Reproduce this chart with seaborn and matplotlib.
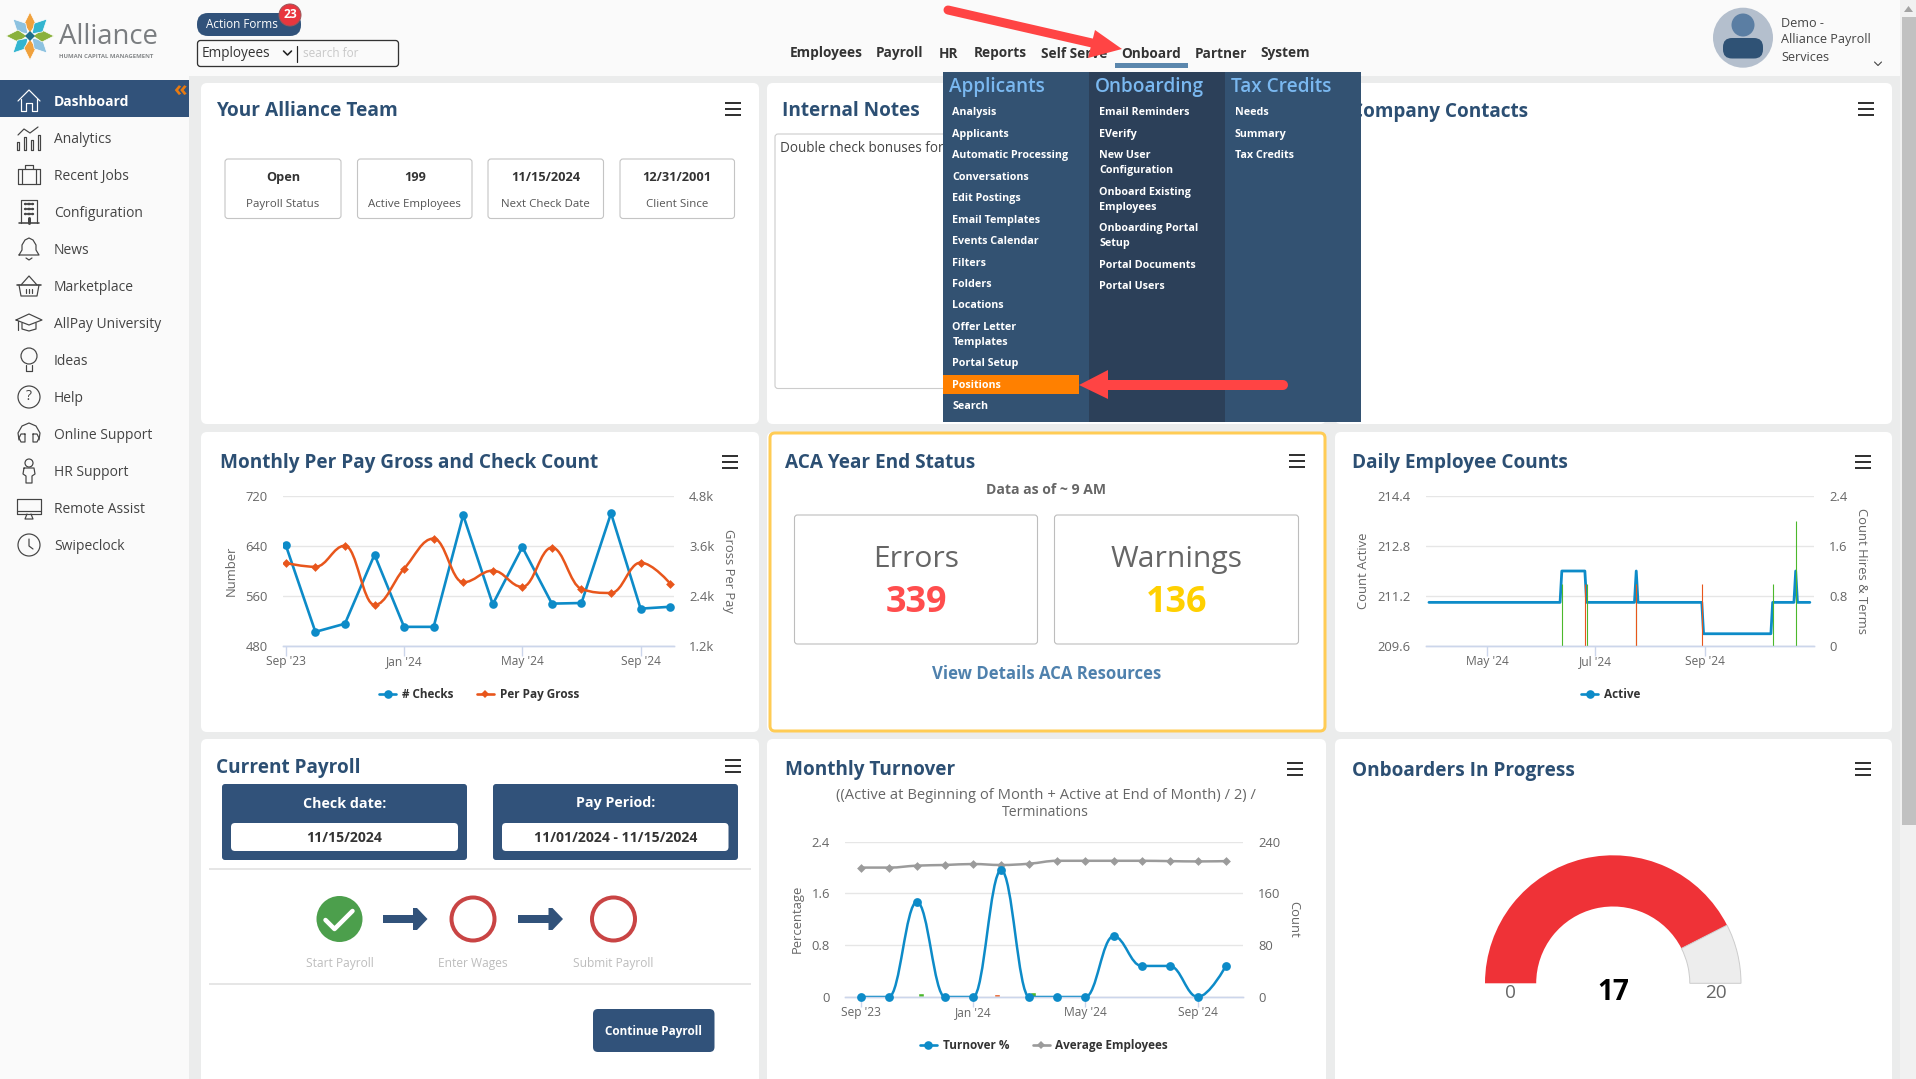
import matplotlib
matplotlib.use("Agg")
import matplotlib.pyplot as plt
import numpy as np
import pandas as pd
import seaborn as sns
from matplotlib.lines import Line2D
from matplotlib.patches import Circle, FancyBboxPatch, PathPatch, Polygon, Rectangle
from matplotlib.path import Path

sns.set_theme(style="white")
plt.rcParams["font.family"] = ["Open Sans", "Noto Sans", "DejaVu Sans"]

W, H = 1916, 1079

####
# data
####

month_index = list(range(14))
month_ticks = [0, 4, 8, 12]
month_tick_labels = ["Sep '23", "Jan '24", "May '24", "Sep '24"]

checks = [641, 503, 516, 626, 511, 511, 689, 547, 638, 548, 549, 692, 540, 543]
per_pay_gross = [3190, 3100, 3605, 2190, 3055, 3775, 2730, 3010, 2620, 3560, 2570, 2475, 3200, 2700]

active_dates = pd.to_datetime([
    "2024-03-29", "2024-06-11", "2024-06-12", "2024-06-25", "2024-06-26", "2024-07-23", "2024-07-24",
    "2024-07-25", "2024-08-30", "2024-08-31", "2024-10-08", "2024-10-09", "2024-10-21", "2024-10-22",
    "2024-10-23", "2024-10-30",
])
active_counts = [211, 211, 212, 212, 211, 211, 212, 211, 211, 210, 210, 211, 211, 212, 211, 211]
hire_dates = pd.to_datetime(["2024-06-12", "2024-06-26", "2024-07-24", "2024-10-09", "2024-10-22"])
hire_counts = [1, 1, 1, 1, 2]
term_dates = pd.to_datetime(["2024-06-25", "2024-07-24", "2024-08-30"])
term_counts = [1, 1, 1]
daily_ticks = pd.to_datetime(["2024-05-01", "2024-07-01", "2024-09-01"])
daily_tick_labels = ["May '24", "Jul '24", "Sep '24"]

turnover_pct = [0, 0, 1.47, 0, 0, 1.96, 0, 0, 0, 0.94, 0.48, 0.48, 0, 0.48]
average_employees = [200, 200, 203, 204, 205.5, 204, 206, 210.5, 210.5, 210.5, 210.5, 210, 209.5, 210]
monthly_terms = [0, 0, 2, 0, 0, 4, 0, 0, 0, 0, 0, 0, 0, 0]
monthly_hires = [0, 0, 6, 0, 0, 0, 7, 0, 0, 0, 0, 0, 0, 1]

gauge_value = 17
gauge_max = 20

nav_items = ["Employees", "Payroll", "HR", "Reports", "Self Serve", "Onboard", "Partner", "System"]
nav_x = [826, 899.5, 948.5, 1000.5, 1074, 1151.5, 1221, 1285]

side_items = ["Dashboard", "Analytics", "Recent Jobs", "Configuration", "News", "Marketplace", "AllPay University",
              "Ideas", "Help", "Online Support", "HR Support", "Remote Assist", "Swipeclock"]
side_y = [101, 138, 175, 212, 249, 286, 323, 360, 397, 434, 471, 508, 545]

menu_col1 = ["Analysis", "Applicants", "Automatic Processing", "Conversations", "Edit Postings", "Email Templates",
             "Events Calendar", "Filters", "Folders", "Locations", "Offer Letter", "Templates", "Portal Setup",
             "Positions", "Search"]
menu_col1_y = [112, 134, 155, 177, 198, 220, 241, 263, 284, 305, 327, 342, 363, 385, 406]
menu_col2 = ["Email Reminders", "EVerify", "New User", "Configuration", "Onboard Existing", "Employees",
             "Onboarding Portal", "Setup", "Portal Documents", "Portal Users"]
menu_col2_y = [112, 134, 155, 170, 192, 207, 228, 243, 265, 286]
menu_col3 = ["Needs", "Summary", "Tax Credits"]
menu_col3_y = [112, 134, 155]

stat_values = ["Open", "199", "11/15/2024", "12/31/2001"]
stat_labels = ["Payroll Status", "Active Employees", "Next Check Date", "Client Since"]
stat_left = [225, 357.5, 488, 620]
stat_right = [341, 472, 603.5, 734.5]

NAVY = "#31527a"
TITLE = "#2c4f73"
BLUE = "#0d8bc8"
ORANGE = "#e8561c"
GREY = "#9b9b9b"
GREEN = "#4cb82c"
RED = "#ff4444"
TICK = "#666666"
AXIS = "#ccd6eb"
GRID = "#e6e6e6"


def fs(px):
    return px * 0.72


fig = plt.figure(figsize=(W / 100, H / 100), dpi=100, facecolor="#ebecec")
bg = fig.add_axes([0, 0, 1, 1])
bg.set_xlim(0, W)
bg.set_ylim(H, 0)
bg.axis("off")


def text(x, y, s, px=14, color="#444444", weight="normal", ha="left", va="center", **kw):
    return bg.text(x, y + 1.5, s, fontsize=fs(px), color=color, fontweight=weight, ha=ha, va=va, **kw)


def box(x0, y0, x1, y1, face="white", edge="none", r=4, lw=1.0, z=1):
    p = FancyBboxPatch((x0, y0), x1 - x0, y1 - y0, boxstyle=f"round,pad=0,rounding_size={r}",
                       facecolor=face, edgecolor=edge, linewidth=fs(lw), zorder=z)
    bg.add_patch(p)
    return p


def rect(x0, y0, x1, y1, face, z=1):
    bg.add_patch(Rectangle((x0, y0), x1 - x0, y1 - y0, facecolor=face, edgecolor="none", zorder=z))


def hamburger(cx, cy):
    for dy in (-6, 0, 6):
        rect(cx - 8, cy + dy - 1, cx + 8, cy + dy + 1, "#333333", z=2)


def pl(pts, cx, cy, c="#444444", lw=1.2):
    bg.plot([cx + p[0] for p in pts], [cy + p[1] for p in pts], color=c, lw=fs(lw), zorder=3,
            solid_capstyle="round", solid_joinstyle="round")


def ring(cx, cy, r, c="#444444", lw=1.2):
    bg.add_patch(Circle((cx, cy), r, facecolor="none", edgecolor=c, linewidth=fs(lw), zorder=3))


def icon(name, cx, cy):
    c = "white" if name == "Dashboard" else "#444444"
    if name == "Dashboard":
        pl([(-11, 0), (0, -11), (11, 0)], cx, cy, c)
        pl([(-8, -2), (-8, 10), (-3, 10), (-3, 2), (3, 2), (3, 10), (8, 10), (8, -2)], cx, cy, c)
    elif name == "Analytics":
        pl([(-11, -3), (-5, -9), (1, -5), (9, -11)], cx, cy)
        for dx, top in ((-11, 4), (-4, -1), (3, 2), (10, -3)):
            pl([(dx - 1, 12), (dx - 1, top), (dx + 1, top), (dx + 1, 12), (dx - 1, 12)], cx, cy)
    elif name == "Recent Jobs":
        pl([(-11, -6), (11, -6), (11, 9), (-11, 9), (-11, -6)], cx, cy)
        pl([(-4, -6), (-4, -10), (4, -10), (4, -6)], cx, cy)
        pl([(-7, -6), (-7, 9)], cx, cy)
        pl([(7, -6), (7, 9)], cx, cy)
    elif name == "Configuration":
        pl([(-8, 11), (-8, -12), (8, -12), (8, 11)], cx, cy)
        pl([(-10, 11), (10, 11)], cx, cy, lw=1.6)
        for dy in (-8, -3, 2):
            for dx in (-3.5, 0, 3.5):
                pl([(dx - 0.8, dy), (dx + 0.8, dy)], cx, cy, lw=2.4)
        pl([(0, 6), (0, 11)], cx, cy, lw=3)
    elif name == "News":
        pl([(-10, 6), (-7, 1), (-7, -4), (-4, -9), (0, -11), (4, -9), (7, -4), (7, 1), (10, 6), (-10, 6)], cx, cy)
        pl([(-3, 9), (0, 11), (3, 9)], cx, cy)
    elif name == "Marketplace":
        pl([(-12, -1), (12, -1)], cx, cy, lw=1.6)
        pl([(-10, -1), (-8, 10), (8, 10), (10, -1)], cx, cy)
        pl([(-8, -1), (0, -10), (8, -1)], cx, cy)
        for dx in (-3, 0, 3):
            pl([(dx, 3), (dx, 7)], cx, cy)
    elif name == "AllPay University":
        pl([(-13, -3), (0, -9), (13, -3), (0, 2), (-13, -3)], cx, cy)
        pl([(-7, 0), (-7, 6), (0, 8), (7, 6), (7, 0)], cx, cy)
        pl([(-11, -2), (-11, 7)], cx, cy)
    elif name == "Ideas":
        ring(cx, cy - 4, 8)
        pl([(-3, 5), (-3, 11), (3, 11), (3, 5)], cx, cy)
    elif name == "Help":
        ring(cx, cy, 11)
        text(cx, cy - 1.5, "?", px=14, ha="center", zorder=3)
    elif name == "Online Support":
        pl([(-10, 6), (-11, -1), (-7, -8), (0, -11), (7, -8), (11, -1), (10, 6)], cx, cy)
        pl([(-4, 0), (-4, 8), (-8, 8), (-10, 4), (-8, 0), (-4, 0)], cx, cy)
        pl([(4, 0), (4, 8), (8, 8), (10, 4), (8, 0), (4, 0)], cx, cy)
    elif name == "HR Support":
        ring(cx, cy - 8, 4)
        pl([(-5, -3), (5, -3), (6, 3), (3, 5), (3, 12), (-3, 12), (-3, 5), (-6, 3), (-5, -3)], cx, cy)
    elif name == "Remote Assist":
        pl([(-12, -9), (12, -9), (12, 6), (-12, 6), (-12, -9)], cx, cy)
        pl([(-12, 3), (12, 3)], cx, cy)
        pl([(-2, 6), (-4, 11), (4, 11), (2, 6)], cx, cy)
    elif name == "Swipeclock":
        ring(cx, cy, 11)
        pl([(0, -6), (0, 1), (4, 4)], cx, cy)


def panel_axes(l, t, r, b):
    ax = fig.add_axes([l / W, 1 - b / H, (r - l) / W, (b - t) / H])
    ax.patch.set_visible(False)
    return ax


def spline(ax, xs, ys, color, lw=1.8):
    # same control points a Highcharts spline uses, drawn as real bezier segments
    codes = [Path.MOVETO]
    verts = [(xs[0], ys[0])]
    n = len(xs)
    ctrl = []
    for i in range(n):
        if i == 0 or i == n - 1:
            ctrl.append((xs[i], ys[i], xs[i], ys[i]))
            continue
        x, y = xs[i], ys[i]
        lx, ly = (1.5 * x + xs[i - 1]) / 2.5, (1.5 * y + ys[i - 1]) / 2.5
        rx, ry = (1.5 * x + xs[i + 1]) / 2.5, (1.5 * y + ys[i + 1]) / 2.5
        corr = ((ry - ly) * (rx - x)) / (rx - lx) + y - ry
        ly += corr
        ry += corr
        if ly > max(ys[i - 1], y):
            ly = max(ys[i - 1], y)
            ry = 2 * y - ly
        elif ly < min(ys[i - 1], y):
            ly = min(ys[i - 1], y)
            ry = 2 * y - ly
        if ry > max(ys[i + 1], y):
            ry = max(ys[i + 1], y)
            ly = 2 * y - ry
        elif ry < min(ys[i + 1], y):
            ry = min(ys[i + 1], y)
            ly = 2 * y - ry
        ctrl.append((lx, ly, rx, ry))
    for i in range(1, n):
        verts += [(ctrl[i - 1][2], ctrl[i - 1][3]), (ctrl[i][0], ctrl[i][1]), (xs[i], ys[i])]
        codes += [Path.CURVE4, Path.CURVE4, Path.CURVE4]
    ax.add_patch(PathPatch(Path(verts, codes), facecolor="none", edgecolor=color, linewidth=lw, capstyle="round"))


def style_axes(ax, ax2, box_px, left_ticks, left_labels, right_ticks, right_labels, left_title, right_title,
               left_x, right_x, label_y):
    l, t, r, b = box_px
    ax.set_yticks(left_ticks)
    ax.set_yticklabels(left_labels)
    ax.set_ylim(left_ticks[0], left_ticks[-1])
    ax2.set_yticks(right_ticks)
    ax2.set_yticklabels(right_labels)
    ax2.set_ylim(right_ticks[0], right_ticks[-1])
    ax.grid(True, axis="y", color=GRID, lw=1.0)
    ax.grid(False, axis="x")
    ax2.grid(False)
    ax.set_axisbelow(True)
    for a in (ax, ax2):
        for side in a.spines:
            a.spines[side].set_visible(False)
        a.spines["bottom"].set_visible(True)
        a.spines["bottom"].set_color(AXIS)
        a.spines["bottom"].set_linewidth(1.0)
    ax.tick_params(axis="y", length=0, pad=fs(15), labelsize=fs(13), labelcolor=TICK)
    ax2.tick_params(axis="y", length=0, pad=fs(15), labelsize=fs(13), labelcolor=TICK)
    ax.tick_params(axis="x", length=fs(10), width=1.0, color=AXIS, pad=-1, labelsize=fs(12), labelcolor=TICK, bottom=True)
    ax2.tick_params(axis="x", bottom=False, labelbottom=False)
    ax.set_xlabel("")
    ax2.set_xlabel("")
    ax.set_ylabel(left_title, fontsize=fs(13), color=TICK, va="center")
    ax2.set_ylabel(right_title, fontsize=fs(13), color=TICK, rotation=270, va="center")
    ax.yaxis.set_label_coords((left_x - l) / (r - l), (b - label_y) / (b - t))
    ax2.yaxis.set_label_coords((right_x - l) / (r - l), (b - label_y) / (b - t))


def chart_legend(ax, handles, x, y):
    leg = ax.legend(handles=handles, loc="center", bbox_to_anchor=(x / W, 1 - y / H), bbox_transform=fig.transFigure,
                    ncol=len(handles), frameon=False, handlelength=1.45, columnspacing=2.0, handletextpad=0.5,
                    prop={"size": fs(11.7), "weight": "bold"})
    for t in leg.get_texts():
        t.set_color("#333333")


####
# page chrome
####

rect(0, 0, W, 76, "#fafafa", z=0)
rect(0, 76, 189, H, "#fafafa", z=0)
rect(1900, 0, W, H, "#f1f1f1", z=0)
rect(1902, 17, W, 825, "#c1c1c1", z=1)
bg.add_patch(Polygon([(1904, 12), (1913, 12), (1908.5, 6)], facecolor="#a3a3a3", edgecolor="none", zorder=1))

for x0, x1 in ((201, 759), (767, 1326), (1335, 1892)):
    box(x0, 83, x1, 424, r=6)
    box(x0, 432, x1, 732, r=6)
    box(x0, 739, x1, H + 20, r=6)

# logo
star = ["#f0a13c", "#8dc2e0", "#8ab13c", "#33b5d0", "#f0a13c", "#8dc2e0", "#8ab13c", "#33b5d0"]
for k, col in enumerate(star):
    a = np.deg2rad(k * 45 + 90)
    u = np.array([np.cos(a), -np.sin(a)])
    v = np.array([-u[1], u[0]])
    c0 = np.array([30, 36])
    pts = [c0 + u * 3, c0 + u * 12 + v * 6, c0 + u * 24, c0 + u * 12 - v * 6]
    bg.add_patch(Polygon(pts, facecolor=col, edgecolor="white", lw=0.5, zorder=2))
bg.add_patch(Polygon([(30, 31), (35, 36), (30, 41), (25, 36)], facecolor="#1f6f8b", edgecolor="none", zorder=2))
text(59, 36, "Alliance", px=27.5, color="#7a7d80")
text(59, 55, "HUMAN CAPITAL MANAGEMENT", px=6, color="#85888a", weight="bold")

# action forms + search
box(197, 13, 301, 36, face=NAVY, r=11)
text(206, 23.5, "Action Forms", px=11.8, color="white", zorder=2)
bg.add_patch(Circle((290, 15), 11, facecolor="#e8363f", edgecolor="#99555a", lw=0.7, zorder=3))
text(290, 13.5, "23", px=12, color="white", weight="bold", ha="center", zorder=4)
box(197.5, 40.5, 398.5, 66.5, face="#fafafa", edge="#333333", r=3, lw=1.3)
text(202, 52, "Employees", px=13.6, color="#333333", zorder=3)
pl([(-4, -2), (0, 2), (4, -2)], 287.5, 53, c="#222222", lw=1.6)
pl([(0, -8), (0, 8)], 297.5, 53.5, c="#222222", lw=1.2)
text(303, 52, "search for", px=11.8, color="#c8c8c8", zorder=3)

# top nav
for label, x in zip(nav_items, nav_x):
    text(x, 52, label, px=13.6, color="#333333", weight="bold", ha="center", zorder=3)
rect(1115, 63, 1188, 68, "#5b87ad", z=3)

# user
bg.add_patch(Circle((1743, 37.7), 30, facecolor="#b4bfcd", edgecolor="none", zorder=2))
bg.add_patch(Circle((1743, 25), 11.5, facecolor="#5b7ea3", edgecolor="none", zorder=3))
box(1723, 38, 1763, 58.5, face="#2f5275", r=9, z=3)
for yy, s in ((21.7, "Demo -"), (38.3, "Alliance Payroll"), (55.7, "Services")):
    text(1781.5, yy, s, px=12.6, color="#444444", zorder=3)
pl([(-3.5, -1.5), (0, 2), (3.5, -1.5)], 1878, 63.5, c="#444444", lw=1.1)

# side bar
rect(0, 80, 189, 117, NAVY, z=1)
for label, y in zip(side_items, side_y):
    dash = label == "Dashboard"
    icon(label, 29, y)
    text(54, y, label, px=13.9, color="white" if dash else "#444444", weight="bold" if dash else "normal", zorder=3)
text(180, 89, "«", px=22, color="#e87a10", weight="bold", ha="center", zorder=3)

####
# top row panels
####

text(216, 110, "Your Alliance Team", px=19.2, color=TITLE, weight="bold", zorder=2)
hamburger(733.5, 109)
for x0, x1, v, lab in zip(stat_left, stat_right, stat_values, stat_labels):
    box(x0, 159, x1, 218.5, edge="#c4c4c4", r=3, lw=1.1, z=2)
    text((x0 + x1) / 2, 176, v, px=12.8, color="#333333", weight="bold", ha="center", zorder=3)
    text((x0 + x1) / 2, 203, lab, px=11.5, color="#555555", ha="center", zorder=3)

text(782.5, 110, "Internal Notes", px=19, color=TITLE, weight="bold", zorder=2)
box(775, 134, 1000, 388.5, edge="#cccccc", r=3, lw=1.1, z=2)
text(780, 147, "Double check bonuses for", px=13.5, color="#444444", zorder=3)

text(1351, 110, "Company Contacts", px=19, color=TITLE, weight="bold", zorder=2)
hamburger(1866, 109)

####
# onboard menu
####

rect(943, 72, 1361, 422, "#335272", z=5)
rect(1089, 72, 1225, 422, "#2c4059", z=5)
rect(943, 375, 1079, 394, "#ff8000", z=6)
for s, x in (("Applicants", 949), ("Onboarding", 1095), ("Tax Credits", 1231)):
    text(x, 85.5, s, px=19, color="#7ab8f0", weight=600, zorder=7)
for labels, ys, x in ((menu_col1, menu_col1_y, 952.5), (menu_col2, menu_col2_y, 1099.5), (menu_col3, menu_col3_y, 1235)):
    for s, y in zip(labels, ys):
        text(x, y - 1, s, px=10.7, color="white", weight="bold", zorder=7)

# red callout arrows
bg.plot([1283, 1105], [385, 385], color=RED, lw=fs(10), solid_capstyle="round", zorder=8)
bg.add_patch(Polygon([(1079, 385), (1108, 370), (1108, 399)], facecolor=RED, edgecolor="none", zorder=8))
bg.plot([948, 1092], [10, 43], color=RED, lw=fs(9), solid_capstyle="round", zorder=8)
bg.add_patch(Polygon([(1122, 49), (1095, 30), (1088, 58)], facecolor=RED, edgecolor="none", zorder=8))

####
# monthly per pay gross and check count
####

text(220, 461.5, "Monthly Per Pay Gross and Check Count", px=19, color=TITLE, weight="bold", zorder=2)
hamburger(730, 462)
box_px = (283, 495.7, 674, 646.3)
ax = panel_axes(*box_px)
ax2 = ax.twinx()
ax2.patch.set_visible(False)
sns.lineplot(x=month_index, y=checks, ax=ax, color=BLUE, linewidth=1.9, marker="o", markersize=6.2,
             markeredgewidth=0, legend=False)
spline(ax2, month_index, per_pay_gross, ORANGE)
sns.scatterplot(x=month_index, y=per_pay_gross, ax=ax2, color=ORANGE, marker="D", s=20, linewidth=0, legend=False)
ax.set_xlim(-0.095, 13.13)
ax.set_xticks(month_ticks)
ax.set_xticklabels(month_tick_labels)
style_axes(ax, ax2, box_px, [480, 560, 640, 720], ["480", "560", "640", "720"],
           [1200, 2400, 3600, 4800], ["1.2k", "2.4k", "3.6k", "4.8k"], "Number", "Gross Per Pay", 231, 728.5, 571)
chart_legend(ax, [Line2D([], [], color=BLUE, lw=1.9, marker="o", ms=6.2, mew=0, label="# Checks"),
                  Line2D([], [], color=ORANGE, lw=1.9, marker="D", ms=4.4, mew=0, label="Per Pay Gross")], 479, 694.5)

####
# ACA
####

box(770, 433, 1325, 731, edge="#ffcc55", r=5, lw=3, z=1.5)
text(785.5, 461.5, "ACA Year End Status", px=19, color=TITLE, weight="bold", zorder=2)
hamburger(1297, 461)
text(1046.5, 489, "Data as of ~ 9 AM", px=14, color="#666666", weight="bold", ha="center", zorder=2)
box(794.5, 515, 1037.5, 644, edge="#bdbdbd", r=3, lw=1.1, z=2)
box(1054.5, 515, 1298.5, 644, edge="#bdbdbd", r=3, lw=1.1, z=2)
text(916, 558, "Errors", px=30, color="#666666", ha="center", zorder=3)
text(916, 602, "339", px=36, color="#ff4d4d", weight="bold", ha="center", zorder=3)
text(1176.5, 558, "Warnings", px=30, color="#666666", ha="center", zorder=3)
text(1177, 602, "136", px=36, color="#ffd000", weight="bold", ha="center", zorder=3)
text(1047, 672.5, "View Details ACA Resources", px=16.8, color="#4f81ad", weight="bold", ha="center", zorder=3)

####
# daily employee counts
####

text(1352, 461.5, "Daily Employee Counts", px=19, color=TITLE, weight="bold", zorder=2)
hamburger(1863, 462)
box_px = (1426, 495.7, 1814, 646.3)
ax = panel_axes(*box_px)
ax2 = ax.twinx()
ax2.patch.set_visible(False)
sns.lineplot(x=active_dates, y=active_counts, ax=ax, color=BLUE, linewidth=2.0, legend=False)
ax2.vlines(hire_dates, 0, hire_counts, color=GREEN, linewidth=0.8)
ax2.vlines(term_dates, 0, term_counts, color=ORANGE, linewidth=0.8)
ax.set_xlim(pd.Timestamp("2024-03-27 08:00"), pd.Timestamp("2024-11-01 08:00"))
ax.set_xticks(daily_ticks)
ax.set_xticklabels(daily_tick_labels)
style_axes(ax, ax2, box_px, [209.6, 211.2, 212.8, 214.4], ["209.6", "211.2", "212.8", "214.4"],
           [0, 0.8, 1.6, 2.4], ["0", "0.8", "1.6", "2.4"], "Count Active", "Count Hires & Terms", 1363.5, 1862, 571)
chart_legend(ax, [Line2D([], [], color=BLUE, lw=1.9, marker="o", ms=6.2, mew=0, label="Active")], 1611, 694.5)

####
# current payroll
####

text(216.5, 766, "Current Payroll", px=19, color=TITLE, weight="bold", zorder=2)
hamburger(733.5, 766)
for x0, x1, ix0, ix1, head, val in ((222, 467, 231, 458, "Check date:", "11/15/2024"),
                                    (493, 738, 502, 728.5, "Pay Period:", "11/01/2024 - 11/15/2024")):
    box(x0, 784, x1, 860, face=NAVY, r=3, z=2)
    box(ix0, 823, ix1, 851, r=4, z=3)
    text((x0 + x1) / 2, 802, head, px=14.2, color="white", weight="bold", ha="center", zorder=4)
    text((ix0 + ix1) / 2, 837, val, px=14, color="#333333", weight="bold", ha="center", zorder=4)
rect(209, 868, 751, 870, "#e6e6e6", z=2)
rect(209, 983, 751, 985, "#e6e6e6", z=2)
bg.add_patch(Circle((339.5, 919), 23, facecolor="#4c9f4c", edgecolor="none", zorder=3))
pl([(-14, 1), (-5, 10), (13, -8)], 339.5, 919, c="white", lw=4.5)
for cx in (473, 613.5):
    ring(cx, 919, 21.5, c="#c94444", lw=4)
for x0 in (383, 518.5):
    rect(x0, 915, x0 + 31, 923, NAVY, z=3)
    bg.add_patch(Polygon([(x0 + 30, 908), (x0 + 34, 908), (x0 + 44.5, 919), (x0 + 34, 930), (x0 + 30, 930)],
                         facecolor=NAVY, edgecolor="none", zorder=3))
for s, cx in (("Start Payroll", 339.5), ("Enter Wages", 473), ("Submit Payroll", 613.5)):
    text(cx, 961.5, s, px=12, color="#bdbdbd", ha="center", zorder=3)
box(593, 1009, 714.5, 1052, face=NAVY, r=5, z=2)
text(654, 1029.5, "Continue Payroll", px=11.8, color="white", weight="bold", ha="center", zorder=3)

####
# monthly turnover
####

text(785.5, 768.5, "Monthly Turnover", px=19, color=TITLE, weight="bold", zorder=2)
hamburger(1295.5, 769)
text(1045.5, 794, "((Active at Beginning of Month + Active at End of Month) / 2) /", px=14.8, color=TICK, ha="center", zorder=2)
text(1045.5, 811, "Terminations", px=14, color=TICK, ha="center", zorder=2)
box_px = (845, 841.7, 1243, 997)
ax = panel_axes(*box_px)
ax2 = ax.twinx()
ax2.patch.set_visible(False)
spline(ax2, month_index, average_employees, GREY)
sns.scatterplot(x=month_index, y=average_employees, ax=ax2, color=GREY, marker="D", s=20, linewidth=0, legend=False)
ax2.bar(np.array(month_index) - 0.15, monthly_terms, width=0.22, color=ORANGE)
ax2.bar(np.array(month_index) + 0.14, monthly_hires, width=0.22, color=GREEN)
spline(ax, month_index, turnover_pct, BLUE)
sns.scatterplot(x=month_index, y=turnover_pct, ax=ax, color=BLUE, marker="o", s=40, linewidth=0, legend=False,
                clip_on=False, zorder=5)
ax.set_zorder(ax2.get_zorder() + 1)
ax.set_xlim(-0.56, 13.61)
ax.set_xticks(month_ticks)
ax.set_xticklabels(month_tick_labels)
style_axes(ax, ax2, box_px, [0, 0.8, 1.6, 2.4], ["0", "0.8", "1.6", "2.4"],
           [0, 80, 160, 240], ["0", "80", "160", "240"], "Percentage", "Count", 797, 1294, 919)
chart_legend(ax, [Line2D([], [], color=BLUE, lw=1.9, marker="o", ms=6.2, mew=0, label="Turnover %"),
                  Line2D([], [], color=GREY, lw=1.9, marker="D", ms=4.4, mew=0, label="Average Employees")], 1044, 1045.5)

####
# onboarders gauge
####

text(1352, 769.5, "Onboarders In Progress", px=19, color=TITLE, weight="bold", zorder=2)
hamburger(1863, 769)
gauge_ax = panel_axes(1613 - 128, 983.3 - 128, 1613 + 128, 983.3 + 128)
wedges, _ = gauge_ax.pie([gauge_value, gauge_max - gauge_value, gauge_max], colors=["#ef3237", "#ededed", "none"],
                         startangle=180, counterclock=False, radius=1, wedgeprops={"width": 0.4, "linewidth": 0})
wedges[1].set_edgecolor("#cccccc")
wedges[1].set_linewidth(0.7)
gauge_ax.set_xlim(-1, 1)
gauge_ax.set_ylim(-1, 1)
text(1510, 992, "0", px=19, color=TICK, ha="center", zorder=3)
text(1716, 992, "20", px=19, color=TICK, ha="center", zorder=3)
text(1613, 991.5, "17", px=28, color="black", weight="bold", ha="center", zorder=3)

fig.savefig("out.png", dpi=100, facecolor=fig.get_facecolor())
